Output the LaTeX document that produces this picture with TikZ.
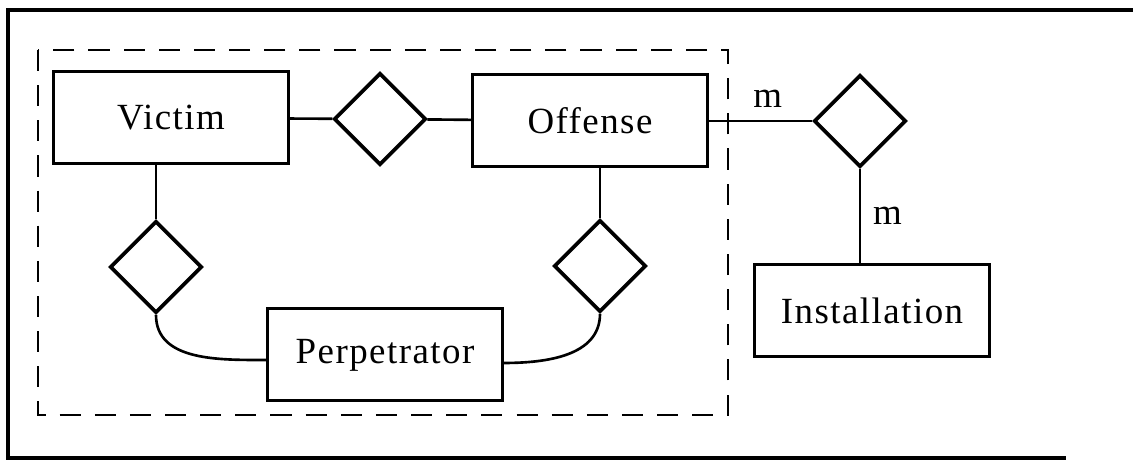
\documentclass[tikz,border=0pt]{standalone}
\usepackage{fontspec}
\setmainfont{Liberation Serif}[LetterSpace=4]
\usetikzlibrary{shapes.geometric}

\begin{document}
\begin{tikzpicture}[
	entity/.style={draw,line width=0.85pt,minimum width=2.35cm,minimum height=0.92cm,inner sep=0pt,font=\fontsize{10.5}{12}\selectfont},
	relation/.style={draw,diamond,line width=1.05pt,minimum width=0.92cm,minimum height=0.92cm,inner sep=0pt},
	link/.style={line width=0.75pt},
	card/.style={font=\fontsize{10.5}{12}\selectfont},
	frameline/.style={line width=0.95pt},
	group/.style={line width=0.55pt,dash pattern=on 6pt off 4pt}]
	\useasboundingbox (0,0) rectangle (11.33,4.63);

	\draw [frameline] (11.33,4.53) -- (0.08,4.53) -- (0.08,0.05) -- (10.66,0.05);
	\draw [group] (0.38,4.13) rectangle (7.28,0.48);

	\node [entity] (victim) at (1.71,3.45) {Victim};
	\node [entity] (offense) at (5.90,3.42) {Offense};
	\node [entity] (perp) at (3.85,1.08) {Perpetrator};
	\node [entity] (inst) at (8.72,1.52) {Installation};

	\node [relation] (vo) at (3.80,3.44) {};
	\node [relation] (oi) at (8.60,3.42) {};
	\node [relation] (vp) at (1.56,1.96) {};
	\node [relation] (op) at (6.00,1.97) {};

	\draw [link] (victim) -- (vo);
	\draw [link] (vo) -- (offense);
	\draw [link] (offense.east) -- node [card,above,pos=0.57] {m} (oi.west);
	\draw [link] (oi.south) -- node [card,right] {m} (oi.south |- inst.north);
	\draw [link] (vp.north |- victim.south) -- (vp.north);
	\draw [link] (op.north |- offense.south) -- (op.north);
	\draw [link] (vp.south) to [out=-90,in=180] ([yshift=-0.05cm]perp.west);
	\draw [link] ([yshift=-0.08cm]perp.east) to [out=0,in=-90] (op.south);
\end{tikzpicture}
\end{document}
